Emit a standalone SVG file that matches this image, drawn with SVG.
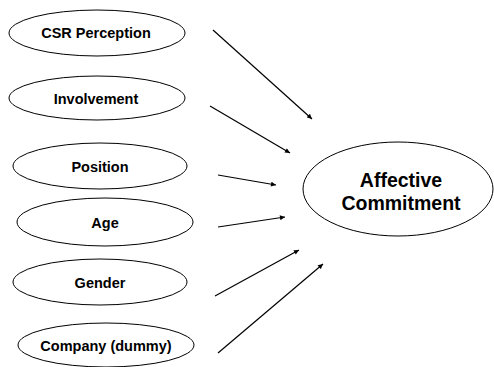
<svg xmlns="http://www.w3.org/2000/svg" width="494" height="367" viewBox="0 0 494 367">
  <style>
    .node ellipse { fill: #ffffff; stroke: #000000; stroke-width: 1; }
    .node text { font-family: "Liberation Sans", Arial, sans-serif; font-weight: bold; font-size: 14.5px; fill: #000000; text-anchor: middle; }
    #affective text { font-size: 19.5px; }
    #connectors line { stroke: #000000; stroke-width: 1.2; marker-end: url(#arrow); }
  </style>
  <defs>
    <marker id="arrow" viewBox="0 0 10 10" refX="10" refY="5" markerWidth="6" markerHeight="5" markerUnits="userSpaceOnUse" orient="auto">
      <path d="M0,0 L10,5 L0,10 z" fill="#000000"/>
    </marker>
  </defs>
  <rect width="494" height="367" fill="#ffffff"/>

  <g id="csr" class="node">
    <ellipse cx="97" cy="33" rx="88" ry="23"/>
    <text x="96" y="38">CSR Perception</text>
  </g>
  <g id="involvement" class="node">
    <ellipse cx="97" cy="98" rx="88" ry="22"/>
    <text x="96" y="104">Involvement</text>
  </g>
  <g id="position" class="node">
    <ellipse cx="100" cy="166" rx="87" ry="23"/>
    <text x="100" y="172">Position</text>
  </g>
  <g id="age" class="node">
    <ellipse cx="105" cy="222" rx="88" ry="24"/>
    <text x="105" y="228">Age</text>
  </g>
  <g id="gender" class="node">
    <ellipse cx="100" cy="282" rx="87" ry="23"/>
    <text x="100" y="288">Gender</text>
  </g>
  <g id="company" class="node">
    <ellipse cx="106" cy="345" rx="88" ry="22"/>
    <text x="106" y="351">Company (dummy)</text>
  </g>
  <g id="affective" class="node">
    <ellipse cx="398" cy="189" rx="95" ry="47"/>
    <text x="401" y="187">Affective</text>
    <text x="401" y="210">Commitment</text>
  </g>

  <g id="connectors">
    <line x1="213" y1="30" x2="312" y2="119"/>
    <line x1="210" y1="106" x2="290" y2="153"/>
    <line x1="218" y1="175" x2="276" y2="185"/>
    <line x1="218" y1="227" x2="285" y2="217"/>
    <line x1="215" y1="296" x2="299" y2="250"/>
    <line x1="218" y1="353" x2="323" y2="264"/>
  </g>
</svg>
